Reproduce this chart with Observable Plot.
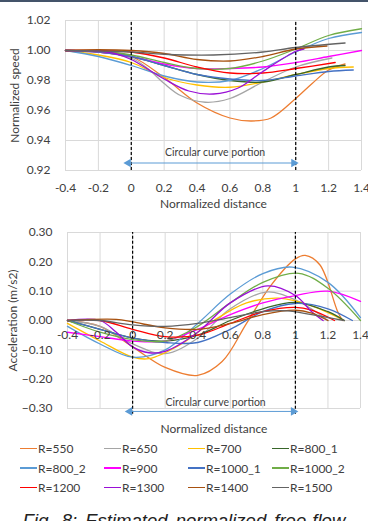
<!DOCTYPE html>
<html>
<head>
<meta charset="utf-8">
<script src="https://cdn.jsdelivr.net/npm/d3@7"></script>
<script src="https://cdn.jsdelivr.net/npm/@observablehq/plot@0.6"></script>
<style>
  html, body { margin: 0; padding: 0; background: #fff; }
  #page { position: relative; width: 368px; height: 521px; overflow: hidden; font-family: Lato, "Open Sans", sans-serif; color: #404040; }
  #topline { position: absolute; left: 0; top: 0; width: 368px; height: 2px; background: #44546a; }
  #speed { position: absolute; left: 0; top: 0; }
  #accel { position: absolute; left: 0; top: 220px; }
  #legend { position: absolute; left: 20px; top: 439px; display: grid; grid-template-columns: repeat(4, 84px); grid-auto-rows: 19.4px; font-size: 12px; }
  #legend .item { display: flex; align-items: center; white-space: nowrap; }
  #legend .sw { display: inline-block; width: 17px; height: 1.6px; margin-right: 1px; }
  #caption { position: absolute; left: 0; width: 368px; top: 512px; text-align: center; font-family: "Liberation Sans", Arial, sans-serif; font-style: italic; font-size: 18.5px; line-height: 18px; word-spacing: 3px; color: #222; white-space: nowrap; }
</style>
</head>
<body>
<div id="page">
  <div id="speed"></div>
  <div id="accel"></div>
  <div id="topline"></div>
  <div id="legend"></div>
  <div id="caption">Fig. 8: Estimated normalized free-flow</div>
</div>
<script>
// Curve radii (series names) and axis ticks
const seriesNames = ["R=550", "R=650", "R=700", "R=800_1", "R=800_2", "R=900",
                     "R=1000_1", "R=1000_2", "R=1200", "R=1300", "R=1400", "R=1500"];
const seriesColors = ["#ed7d31", "#a5a5a5", "#ffc000", "#38662a", "#5b9bd5", "#ff00ff",
                      "#4472c4", "#70ad47", "#ff0000", "#9a0fd6", "#a8510f", "#636363"];
const xTickValues = [-0.4, -0.2, 0, 0.2, 0.4, 0.6, 0.8, 1, 1.2, 1.4];
const xTickLabels = ["-0.4", "-0.2", "0", "0.2", "0.4", "0.6", "0.8", "1", "1.2", "1.4"];
const speedTicks = [0.92, 0.94, 0.96, 0.98, 1.00, 1.02];
const accelTicks = [-0.3, -0.2, -0.1, 0, 0.1, 0.2, 0.3];
const curveStart = 0;   // beginning of the circular curve (normalized distance)
const curveEnd = 1;     // end of the circular curve

// Normalized speed: [normalized distance, normalized speed]
const speedR550   = [[-0.4,1.0],[-0.2,0.9995],[0,0.996],[0.2,0.982],[0.4,0.965],[0.6,0.955],[0.73,0.953],[0.85,0.955],[1.0,0.968],[1.1,0.978],[1.2,0.987],[1.3,0.991]];
const speedR650   = [[-0.4,1.0],[-0.2,0.999],[0,0.995],[0.1,0.988],[0.2,0.978],[0.3,0.970],[0.45,0.9655],[0.6,0.968],[0.8,0.979],[1.0,0.989],[1.22,0.995]];
const speedR700   = [[-0.4,1.0],[-0.2,0.997],[0,0.992],[0.2,0.982],[0.4,0.977],[0.6,0.9755],[0.8,0.979],[1.0,0.984],[1.2,0.988],[1.35,0.989]];
const speedR800a  = [[-0.4,1.0],[-0.2,0.999],[0,0.996],[0.2,0.990],[0.4,0.984],[0.6,0.980],[0.8,0.979],[1.0,0.984],[1.2,0.989],[1.3,0.990]];
const speedR800b  = [[-0.4,1.0],[-0.2,0.996],[0,0.990],[0.2,0.983],[0.4,0.979],[0.6,0.980],[0.8,0.988],[1.0,0.999],[1.2,1.008],[1.4,1.012]];
const speedR900   = [[-0.4,1.0],[-0.2,0.999],[0,0.996],[0.2,0.991],[0.4,0.988],[0.6,0.988],[0.8,0.989],[1.0,0.992],[1.2,0.996],[1.4,1.000]];
const speedR1000a = [[-0.4,1.0],[-0.2,0.999],[0,0.996],[0.2,0.990],[0.4,0.984],[0.6,0.981],[0.8,0.980],[1.0,0.983],[1.2,0.986],[1.35,0.987]];
const speedR1000b = [[-0.4,1.0],[-0.2,0.9995],[0,0.997],[0.2,0.992],[0.4,0.988],[0.6,0.988],[0.8,0.993],[1.0,1.001],[1.2,1.010],[1.4,1.0145]];
const speedR1200  = [[-0.4,1.0],[-0.2,1.0],[0,0.999],[0.2,0.995],[0.4,0.989],[0.6,0.985],[0.8,0.985],[1.0,0.988],[1.24,0.992]];
const speedR1300  = [[-0.4,1.0],[-0.2,0.9995],[-0.1,0.998],[0,0.994],[0.2,0.981],[0.35,0.973],[0.5,0.971],[0.65,0.975],[0.8,0.986],[1.0,0.9995],[1.05,1.001]];
const speedR1400  = [[-0.4,1.0],[-0.2,1.0005],[0,1.000],[0.2,0.998],[0.4,0.994],[0.6,0.993],[0.8,0.996],[1.0,1.001],[1.19,1.003]];
const speedR1500  = [[-0.4,1.0],[0,0.999],[0.2,0.9975],[0.5,0.997],[0.8,0.999],[1.0,1.002],[1.3,1.005]];

// Acceleration (m/s2): [normalized distance, acceleration]
const accelR550   = [[-0.4,0],[-0.2,-0.02],[0,-0.09],[0.2,-0.16],[0.4,-0.187],[0.55,-0.14],[0.7,-0.01],[0.85,0.12],[1.0,0.21],[1.06,0.222],[1.15,0.19],[1.26,0.03],[1.29,0.0]];
const accelR650   = [[-0.4,0],[-0.2,-0.02],[0,-0.08],[0.2,-0.113],[0.4,-0.06],[0.6,0.04],[0.82,0.097],[1.0,0.07],[1.2,0.0]];
const accelR700   = [[-0.4,-0.01],[-0.2,-0.07],[0,-0.125],[0.1,-0.13],[0.3,-0.08],[0.5,0.0],[0.7,0.06],[0.9,0.076],[1.1,0.05],[1.3,0.0]];
const accelR800a  = [[-0.4,0],[-0.2,-0.03],[0,-0.06],[0.2,-0.07],[0.4,-0.05],[0.6,0.0],[0.8,0.04],[1.0,0.062],[1.2,0.03],[1.3,0.0]];
const accelR800b  = [[-0.4,-0.02],[-0.2,-0.08],[0,-0.125],[0.2,-0.10],[0.4,-0.01],[0.6,0.09],[0.8,0.16],[0.98,0.182],[1.2,0.13],[1.4,0.01]];
const accelR900   = [[-0.4,-0.04],[-0.2,-0.055],[0,-0.07],[0.2,-0.07],[0.4,-0.03],[0.6,0.02],[0.8,0.06],[1.0,0.085],[1.2,0.10],[1.4,0.065]];
const accelR1000a = [[-0.4,0],[-0.2,-0.03],[0,-0.06],[0.2,-0.075],[0.4,-0.075],[0.6,-0.03],[0.8,0.03],[1.0,0.058],[1.2,0.04],[1.35,0.0]];
const accelR1000b = [[-0.4,0],[-0.2,-0.04],[0,-0.065],[0.2,-0.07],[0.4,-0.02],[0.6,0.06],[0.8,0.13],[1.02,0.161],[1.2,0.11],[1.4,0.0]];
const accelR1200  = [[-0.4,0],[-0.2,0],[0,-0.03],[0.2,-0.055],[0.4,-0.05],[0.6,-0.01],[0.8,0.03],[1.0,0.045],[1.1,0.035],[1.24,0.0]];
const accelR1300  = [[-0.4,0],[-0.2,0],[-0.1,-0.04],[0,-0.09],[0.1,-0.11],[0.2,-0.105],[0.4,-0.04],[0.6,0.06],[0.83,0.118],[1.0,0.085],[1.1,0.03],[1.17,0.0]];
const accelR1400  = [[-0.4,0],[-0.1,0.004],[0,-0.005],[0.2,-0.025],[0.4,-0.03],[0.6,-0.01],[0.8,0.02],[1.0,0.035],[1.1,0.025],[1.2,0.0]];
const accelR1500  = [[-0.4,0],[-0.2,0],[0,-0.015],[0.2,-0.02],[0.4,-0.01],[0.6,0.01],[0.8,0.03],[0.95,0.033],[1.1,0.02],[1.3,0.0]];

const speedSeries = [speedR550, speedR650, speedR700, speedR800a, speedR800b, speedR900,
                     speedR1000a, speedR1000b, speedR1200, speedR1300, speedR1400, speedR1500];
const accelSeries = [accelR550, accelR650, accelR700, accelR800a, accelR800b, accelR900,
                     accelR1000a, accelR1000b, accelR1200, accelR1300, accelR1400, accelR1500];

const toRows = (series) => series.flatMap((pts, i) => pts.map(([x, y]) => ({name: seriesNames[i], x, y})));
const speedRows = toRows(speedSeries);
const accelRows = toRows(accelSeries);

const grid = "#d9d9d9";
const ink = "#404040";
const arrowBlue = "#5b9bd5";
const xLabel = (d) => xTickLabels[xTickValues.indexOf(d)];
const color = {domain: seriesNames, range: seriesColors};
const fontStyle = {fontFamily: "Lato, 'Open Sans', sans-serif", fontSize: "12px", color: ink, background: "transparent"};

// Double-headed arrow spanning the circular curve portion
function portionMarks(yArrow, yText) {
  return [
    Plot.link([0], {x1: -0.03, x2: curveEnd, y1: yArrow, y2: yArrow, stroke: arrowBlue, strokeWidth: 1}),
    Plot.dot([-0.03], {x: d => d, y: yArrow, symbol: "triangle", r: 3.2, fill: arrowBlue, stroke: null, rotate: -90, dx: 2}),
    Plot.dot([curveEnd], {x: d => d, y: yArrow, symbol: "triangle", r: 3.2, fill: arrowBlue, stroke: null, rotate: 90, dx: -2}),
    Plot.text(["Circular curve portion"], {x: 0.51, y: yText, text: d => d, fill: ink, fontSize: 10.5})
  ];
}

// Rotated y-axis title centred on the frame's left side
const yTitle = (label, dx) =>
  Plot.text([label], {frameAnchor: "left", textAnchor: "middle", dx, rotate: -90, text: d => d, fill: ink, fontSize: 12});

const speedPlot = Plot.plot({
  width: 368, height: 215,
  marginTop: 20, marginBottom: 45, marginLeft: 65, marginRight: 7,
  style: fontStyle,
  x: {domain: [-0.4, 1.4], axis: null},
  y: {domain: [0.92, 1.02], axis: null},
  color,
  marks: [
    Plot.gridX(xTickValues, {stroke: grid, strokeOpacity: 1}),
    Plot.gridY(speedTicks, {stroke: grid, strokeOpacity: 1}),
    Plot.axisX(xTickValues, {tickSize: 0, tickPadding: 13, tickFormat: xLabel, fill: ink, fontSize: 12, label: null}),
    Plot.axisY(speedTicks, {tickSize: 0, tickPadding: 15, tickFormat: d3.format(".2f"), fill: ink, fontSize: 12, label: null}),
    Plot.line(speedRows, {x: "x", y: "y", z: "name", stroke: "name", curve: "catmull-rom", strokeWidth: 1.3}),
    Plot.ruleX([curveStart, curveEnd], {y1: 0.92, y2: 1.02, stroke: "#000", strokeWidth: 1.2, strokeDasharray: "3,2"}),
    ...portionMarks(0.925, 0.9318),
    Plot.text(["Normalized distance"], {frameAnchor: "bottom", dy: 37, text: d => d, fill: ink, fontSize: 12}),
    yTitle("Normalized speed", -50)
  ]
});
document.getElementById("speed").append(speedPlot);

const accelPlot = Plot.plot({
  width: 368, height: 220,
  marginTop: 12, marginBottom: 32, marginLeft: 67, marginRight: 8,
  style: fontStyle,
  x: {domain: [-0.4, 1.4], axis: null},
  y: {domain: [-0.3, 0.3], axis: null},
  color,
  marks: [
    Plot.gridX(xTickValues, {stroke: grid, strokeOpacity: 1}),
    Plot.gridY(accelTicks, {stroke: grid, strokeOpacity: 1}),
    Plot.axisY(accelTicks, {tickSize: 0, tickPadding: 15, tickFormat: d3.format(".2f"), fill: ink, fontSize: 12, label: null}),
    Plot.line(accelRows, {x: "x", y: "y", z: "name", stroke: "name", curve: "catmull-rom", strokeWidth: 1.3}),
    Plot.ruleX([curveStart, curveEnd], {y1: -0.32, y2: 0.3, stroke: "#000", strokeWidth: 1.2, strokeDasharray: "3,2"}),
    Plot.text(xTickValues, {x: d => d, y: 0, dy: 15, text: xLabel, fill: ink, fontSize: 12}),
    ...portionMarks(-0.31, -0.279),
    Plot.text(["Normalized distance"], {frameAnchor: "bottom", dy: 24, text: d => d, fill: ink, fontSize: 12}),
    yTitle("Acceleration (m/s2)", -54)
  ]
});
document.getElementById("accel").append(accelPlot);

// Legend: four columns, three rows
const legend = document.getElementById("legend");
seriesNames.forEach((name, i) => {
  const item = document.createElement("div");
  item.className = "item";
  const sw = document.createElement("span");
  sw.className = "sw";
  sw.style.background = seriesColors[i];
  item.append(sw, document.createTextNode(name));
  legend.append(item);
});
</script>
</body>
</html>
